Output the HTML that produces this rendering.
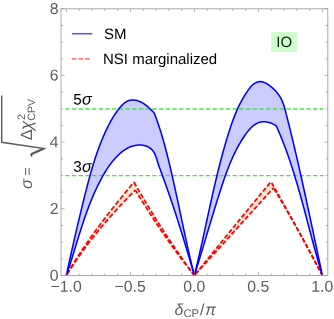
<!DOCTYPE html>
<html>
<head>
<meta charset="utf-8">
<title>CPV sensitivity</title>
<style>
html,body{margin:0;padding:0;background:#ffffff;}
body{width:334px;height:319px;overflow:hidden;}
svg{display:block;will-change:transform;}
svg{font-family:"Liberation Sans",sans-serif;font-size:15.5px;}
text{font-family:"Liberation Sans",sans-serif;text-rendering:geometricPrecision;}
.it{font-style:italic;}
</style>
</head>
<body>
<svg width="334" height="319" viewBox="0 0 334 319">
<rect x="0" y="0" width="334" height="319" fill="#ffffff"/>
<!-- NSI band + curves -->
<path d="M66.30 275.50 L67.47 273.45 L68.65 271.42 L69.85 269.39 L71.06 267.36 L72.28 265.35 L73.51 263.34 L74.75 261.34 L76.01 259.35 L77.27 257.36 L78.54 255.38 L79.83 253.41 L81.12 251.44 L82.43 249.48 L83.74 247.53 L85.07 245.58 L86.40 243.64 L87.74 241.70 L89.09 239.77 L90.45 237.85 L91.82 235.93 L93.19 234.01 L94.57 232.11 L95.96 230.20 L97.36 228.30 L98.77 226.41 L100.18 224.52 L101.59 222.64 L103.02 220.76 L104.44 218.88 L105.88 217.01 L107.32 215.15 L108.77 213.28 L110.22 211.42 L111.67 209.57 L113.13 207.72 L114.59 205.87 L116.06 204.02 L117.53 202.18 L119.01 200.34 L120.49 198.51 L121.97 196.68 L123.45 194.85 L124.94 193.02 L126.43 191.19 L127.92 189.37 L129.41 187.55 L130.91 185.73 L132.40 183.91 L133.90 182.10 L135.45 184.80 L137.00 187.48 L138.55 190.15 L140.10 192.80 L141.65 195.43 L143.20 198.05 L144.75 200.66 L146.30 203.24 L147.85 205.81 L149.40 208.37 L150.95 210.91 L152.50 213.43 L154.05 215.94 L155.60 218.43 L157.15 220.90 L158.70 223.36 L160.25 225.81 L161.80 228.23 L163.35 230.64 L164.90 233.04 L166.45 235.42 L168.00 237.78 L169.55 240.13 L171.10 242.46 L172.65 244.77 L174.20 247.07 L175.75 249.35 L177.30 251.62 L178.85 253.87 L180.40 256.11 L181.95 258.33 L183.50 260.53 L185.05 262.72 L186.60 264.89 L188.15 267.04 L189.70 269.18 L191.25 271.30 L192.80 273.41 L194.35 275.50 L194.35 275.50 L192.84 273.60 L191.32 271.69 L189.81 269.76 L188.29 267.82 L186.78 265.86 L185.27 263.88 L183.75 261.89 L182.24 259.89 L180.72 257.87 L179.21 255.83 L177.69 253.78 L176.18 251.71 L174.67 249.63 L173.15 247.53 L171.64 245.42 L170.12 243.29 L168.61 241.15 L167.10 238.99 L165.58 236.82 L164.07 234.63 L162.55 232.42 L161.04 230.20 L159.53 227.97 L158.01 225.71 L156.50 223.45 L154.98 221.17 L153.47 218.87 L151.96 216.56 L150.44 214.23 L148.93 211.88 L147.41 209.52 L145.90 207.15 L144.38 204.76 L142.87 202.36 L141.36 199.94 L139.84 197.50 L138.33 195.05 L136.81 192.58 L135.30 190.10 L133.72 191.69 L132.14 193.29 L130.57 194.89 L129.01 196.50 L127.45 198.11 L125.89 199.73 L124.34 201.36 L122.80 202.99 L121.26 204.63 L119.73 206.27 L118.21 207.93 L116.69 209.58 L115.18 211.25 L113.68 212.92 L112.18 214.59 L110.69 216.27 L109.20 217.96 L107.73 219.66 L106.26 221.36 L104.80 223.07 L103.35 224.78 L101.90 226.50 L100.46 228.23 L99.03 229.96 L97.61 231.70 L96.20 233.45 L94.79 235.20 L93.40 236.96 L92.01 238.73 L90.63 240.50 L89.26 242.28 L87.90 244.07 L86.55 245.86 L85.21 247.67 L83.88 249.47 L82.55 251.29 L81.24 253.11 L79.94 254.93 L78.65 256.77 L77.36 258.61 L76.09 260.46 L74.83 262.31 L73.58 264.18 L72.34 266.05 L71.11 267.92 L69.89 269.81 L68.68 271.70 L67.49 273.60 L66.30 275.50 Z" fill="#fbe6d2" stroke="none"/>
<path d="M194.35 275.50 L196.32 273.07 L198.28 270.63 L200.25 268.20 L202.21 265.77 L204.18 263.34 L206.14 260.92 L208.11 258.49 L210.07 256.07 L212.04 253.64 L214.00 251.22 L215.97 248.80 L217.93 246.39 L219.90 243.97 L221.87 241.56 L223.83 239.14 L225.80 236.73 L227.76 234.32 L229.73 231.91 L231.69 229.51 L233.66 227.10 L235.62 224.70 L237.59 222.30 L239.55 219.90 L241.52 217.50 L243.48 215.10 L245.45 212.70 L247.42 210.31 L249.38 207.92 L251.35 205.53 L253.31 203.14 L255.28 200.75 L257.24 198.36 L259.21 195.98 L261.17 193.59 L263.14 191.21 L265.10 188.83 L267.07 186.45 L269.03 184.08 L271.00 181.70 L272.32 184.01 L273.64 186.32 L274.95 188.64 L276.27 190.97 L277.59 193.30 L278.91 195.63 L280.23 197.97 L281.54 200.32 L282.86 202.67 L284.18 205.02 L285.50 207.38 L286.82 209.75 L288.13 212.12 L289.45 214.49 L290.77 216.87 L292.09 219.26 L293.41 221.65 L294.72 224.04 L296.04 226.44 L297.36 228.85 L298.68 231.26 L299.99 233.67 L301.31 236.09 L302.63 238.52 L303.95 240.95 L305.27 243.38 L306.58 245.82 L307.90 248.27 L309.22 250.72 L310.54 253.18 L311.86 255.64 L313.17 258.10 L314.49 260.57 L315.81 263.05 L317.13 265.53 L318.45 268.01 L319.76 270.50 L321.08 273.00 L322.40 275.50 L322.40 275.50 L321.15 273.10 L319.89 270.70 L318.64 268.32 L317.38 265.94 L316.13 263.57 L314.88 261.21 L313.62 258.86 L312.37 256.51 L311.12 254.18 L309.86 251.85 L308.61 249.53 L307.35 247.22 L306.10 244.92 L304.85 242.62 L303.59 240.33 L302.34 238.05 L301.08 235.78 L299.83 233.52 L298.58 231.27 L297.32 229.02 L296.07 226.78 L294.82 224.55 L293.56 222.33 L292.31 220.12 L291.05 217.91 L289.80 215.72 L288.55 213.53 L287.29 211.35 L286.04 209.17 L284.78 207.01 L283.53 204.85 L282.28 202.71 L281.02 200.57 L279.77 198.43 L278.52 196.31 L277.26 194.20 L276.01 192.09 L274.75 189.99 L273.50 187.90 L271.47 190.15 L269.44 192.39 L267.41 194.64 L265.38 196.88 L263.35 199.13 L261.32 201.38 L259.29 203.62 L257.26 205.87 L255.23 208.12 L253.21 210.36 L251.18 212.61 L249.15 214.85 L247.12 217.10 L245.09 219.35 L243.06 221.59 L241.03 223.84 L239.00 226.08 L236.97 228.33 L234.94 230.58 L232.91 232.82 L230.88 235.07 L228.85 237.32 L226.82 239.56 L224.79 241.81 L222.76 244.05 L220.73 246.30 L218.70 248.55 L216.67 250.79 L214.64 253.04 L212.62 255.28 L210.59 257.53 L208.56 259.78 L206.53 262.02 L204.50 264.27 L202.47 266.52 L200.44 268.76 L198.41 271.01 L196.38 273.25 L194.35 275.50 Z" fill="#fbe6d2" stroke="none"/>
<g fill="none" stroke="#ff0000" stroke-width="1.75" stroke-linejoin="miter">
<path d="M66.30 275.50 L67.47 273.45 L68.65 271.42 L69.85 269.39 L71.06 267.36 L72.28 265.35 L73.51 263.34 L74.75 261.34 L76.01 259.35 L77.27 257.36 L78.54 255.38 L79.83 253.41 L81.12 251.44 L82.43 249.48 L83.74 247.53 L85.07 245.58 L86.40 243.64 L87.74 241.70 L89.09 239.77 L90.45 237.85 L91.82 235.93 L93.19 234.01 L94.57 232.11 L95.96 230.20 L97.36 228.30 L98.77 226.41 L100.18 224.52 L101.59 222.64 L103.02 220.76 L104.44 218.88 L105.88 217.01 L107.32 215.15 L108.77 213.28 L110.22 211.42 L111.67 209.57 L113.13 207.72 L114.59 205.87 L116.06 204.02 L117.53 202.18 L119.01 200.34 L120.49 198.51 L121.97 196.68 L123.45 194.85 L124.94 193.02 L126.43 191.19 L127.92 189.37 L129.41 187.55 L130.91 185.73 L132.40 183.91 L133.90 182.10" stroke-dasharray="4.90 2.20" stroke-dashoffset="5.88"/>
<path d="M66.30 275.50 L67.49 273.60 L68.68 271.70 L69.89 269.81 L71.11 267.92 L72.34 266.05 L73.58 264.18 L74.83 262.31 L76.09 260.46 L77.36 258.61 L78.65 256.77 L79.94 254.93 L81.24 253.11 L82.55 251.29 L83.88 249.47 L85.21 247.67 L86.55 245.86 L87.90 244.07 L89.26 242.28 L90.63 240.50 L92.01 238.73 L93.40 236.96 L94.79 235.20 L96.20 233.45 L97.61 231.70 L99.03 229.96 L100.46 228.23 L101.90 226.50 L103.35 224.78 L104.80 223.07 L106.26 221.36 L107.73 219.66 L109.20 217.96 L110.69 216.27 L112.18 214.59 L113.68 212.92 L115.18 211.25 L116.69 209.58 L118.21 207.93 L119.73 206.27 L121.26 204.63 L122.80 202.99 L124.34 201.36 L125.89 199.73 L127.45 198.11 L129.01 196.50 L130.57 194.89 L132.14 193.29 L133.72 191.69 L135.30 190.10" stroke-dasharray="4.90 2.20" stroke-dashoffset="5.74"/>
<path d="M133.90 182.10 L135.45 184.80 L137.00 187.48 L138.55 190.15 L140.10 192.80 L141.65 195.43 L143.20 198.05 L144.75 200.66 L146.30 203.24 L147.85 205.81 L149.40 208.37 L150.95 210.91 L152.50 213.43 L154.05 215.94 L155.60 218.43 L157.15 220.90 L158.70 223.36 L160.25 225.81 L161.80 228.23 L163.35 230.64 L164.90 233.04 L166.45 235.42 L168.00 237.78 L169.55 240.13 L171.10 242.46 L172.65 244.77 L174.20 247.07 L175.75 249.35 L177.30 251.62 L178.85 253.87 L180.40 256.11 L181.95 258.33 L183.50 260.53 L185.05 262.72 L186.60 264.89 L188.15 267.04 L189.70 269.18 L191.25 271.30 L192.80 273.41 L194.35 275.50" stroke-dasharray="4.60 2.10" stroke-dashoffset="6.51"/>
<path d="M135.30 190.10 L136.81 192.58 L138.33 195.05 L139.84 197.50 L141.36 199.94 L142.87 202.36 L144.38 204.76 L145.90 207.15 L147.41 209.52 L148.93 211.88 L150.44 214.23 L151.96 216.56 L153.47 218.87 L154.98 221.17 L156.50 223.45 L158.01 225.71 L159.53 227.97 L161.04 230.20 L162.55 232.42 L164.07 234.63 L165.58 236.82 L167.10 238.99 L168.61 241.15 L170.12 243.29 L171.64 245.42 L173.15 247.53 L174.67 249.63 L176.18 251.71 L177.69 253.78 L179.21 255.83 L180.72 257.87 L182.24 259.89 L183.75 261.89 L185.27 263.88 L186.78 265.86 L188.29 267.82 L189.81 269.76 L191.32 271.69 L192.84 273.60 L194.35 275.50" stroke-dasharray="4.60 2.10" stroke-dashoffset="0.73"/>
<path d="M194.35 275.50 L196.32 273.07 L198.28 270.63 L200.25 268.20 L202.21 265.77 L204.18 263.34 L206.14 260.92 L208.11 258.49 L210.07 256.07 L212.04 253.64 L214.00 251.22 L215.97 248.80 L217.93 246.39 L219.90 243.97 L221.87 241.56 L223.83 239.14 L225.80 236.73 L227.76 234.32 L229.73 231.91 L231.69 229.51 L233.66 227.10 L235.62 224.70 L237.59 222.30 L239.55 219.90 L241.52 217.50 L243.48 215.10 L245.45 212.70 L247.42 210.31 L249.38 207.92 L251.35 205.53 L253.31 203.14 L255.28 200.75 L257.24 198.36 L259.21 195.98 L261.17 193.59 L263.14 191.21 L265.10 188.83 L267.07 186.45 L269.03 184.08 L271.00 181.70" stroke-dasharray="4.60 2.10" stroke-dashoffset="5.47"/>
<path d="M194.35 275.50 L196.38 273.25 L198.41 271.01 L200.44 268.76 L202.47 266.52 L204.50 264.27 L206.53 262.02 L208.56 259.78 L210.59 257.53 L212.62 255.28 L214.64 253.04 L216.67 250.79 L218.70 248.55 L220.73 246.30 L222.76 244.05 L224.79 241.81 L226.82 239.56 L228.85 237.32 L230.88 235.07 L232.91 232.82 L234.94 230.58 L236.97 228.33 L239.00 226.08 L241.03 223.84 L243.06 221.59 L245.09 219.35 L247.12 217.10 L249.15 214.85 L251.18 212.61 L253.21 210.36 L255.23 208.12 L257.26 205.87 L259.29 203.62 L261.32 201.38 L263.35 199.13 L265.38 196.88 L267.41 194.64 L269.44 192.39 L271.47 190.15 L273.50 187.90" stroke-dasharray="4.60 2.10" stroke-dashoffset="4.77"/>
<path d="M271.00 181.70 L272.32 184.01 L273.64 186.32 L274.95 188.64 L276.27 190.97 L277.59 193.30 L278.91 195.63 L280.23 197.97 L281.54 200.32 L282.86 202.67 L284.18 205.02 L285.50 207.38 L286.82 209.75 L288.13 212.12 L289.45 214.49 L290.77 216.87 L292.09 219.26 L293.41 221.65 L294.72 224.04 L296.04 226.44 L297.36 228.85 L298.68 231.26 L299.99 233.67 L301.31 236.09 L302.63 238.52 L303.95 240.95 L305.27 243.38 L306.58 245.82 L307.90 248.27 L309.22 250.72 L310.54 253.18 L311.86 255.64 L313.17 258.10 L314.49 260.57 L315.81 263.05 L317.13 265.53 L318.45 268.01 L319.76 270.50 L321.08 273.00 L322.40 275.50" stroke-dasharray="4.40 1.95" stroke-dashoffset="4.95"/>
<path d="M273.50 187.90 L274.75 189.99 L276.01 192.09 L277.26 194.20 L278.52 196.31 L279.77 198.43 L281.02 200.57 L282.28 202.71 L283.53 204.85 L284.78 207.01 L286.04 209.17 L287.29 211.35 L288.55 213.53 L289.80 215.72 L291.05 217.91 L292.31 220.12 L293.56 222.33 L294.82 224.55 L296.07 226.78 L297.32 229.02 L298.58 231.27 L299.83 233.52 L301.08 235.78 L302.34 238.05 L303.59 240.33 L304.85 242.62 L306.10 244.92 L307.35 247.22 L308.61 249.53 L309.86 251.85 L311.12 254.18 L312.37 256.51 L313.62 258.86 L314.88 261.21 L316.13 263.57 L317.38 265.94 L318.64 268.32 L319.89 270.70 L321.15 273.10 L322.40 275.50" stroke-dasharray="4.40 1.95" stroke-dashoffset="5.20"/>
</g>
<!-- SM band + curves -->
<path d="M66.30 275.50 L66.73 273.52 L67.16 271.54 L67.59 269.57 L68.02 267.59 L68.45 265.61 L68.89 263.63 L69.32 261.66 L69.76 259.68 L70.20 257.70 L70.64 255.73 L71.08 253.75 L71.52 251.77 L71.96 249.80 L72.41 247.82 L72.86 245.85 L73.30 243.87 L73.75 241.90 L74.20 239.92 L74.65 237.95 L75.11 235.97 L75.56 234.00 L76.02 232.03 L76.48 230.05 L76.94 228.08 L77.40 226.11 L77.86 224.14 L78.33 222.17 L78.79 220.20 L79.26 218.22 L79.73 216.25 L80.20 214.28 L80.68 212.32 L81.15 210.35 L81.63 208.38 L82.11 206.41 L82.59 204.44 L83.08 202.47 L83.56 200.51 L84.05 198.54 L84.54 196.57 L85.03 194.61 L85.52 192.64 L86.02 190.68 L86.52 188.72 L87.02 186.75 L87.53 184.79 L88.04 182.83 L88.56 180.88 L89.09 178.92 L89.62 176.97 L90.16 175.02 L90.70 173.07 L91.26 171.12 L91.82 169.18 L92.39 167.24 L92.97 165.31 L93.56 163.37 L94.16 161.45 L94.78 159.52 L95.40 157.60 L96.04 155.69 L96.69 153.77 L97.35 151.87 L98.03 149.97 L98.72 148.07 L99.43 146.18 L100.15 144.30 L100.89 142.42 L101.64 140.54 L102.42 138.68 L103.20 136.82 L104.01 134.96 L104.84 133.12 L105.68 131.28 L106.55 129.45 L107.43 127.62 L108.34 125.81 L109.27 124.00 L110.22 122.20 L111.20 120.42 L112.22 118.65 L113.27 116.90 L114.35 115.18 L115.48 113.47 L116.65 111.79 L117.87 110.14 L119.14 108.51 L120.45 106.92 L121.83 105.39 L123.28 103.97 L124.80 102.69 L126.41 101.62 L128.11 100.79 L129.91 100.26 L131.79 100.00 L133.73 100.02 L135.69 100.27 L137.67 100.75 L139.63 101.44 L141.54 102.32 L143.39 103.37 L145.14 104.56 L146.81 105.87 L148.39 107.26 L149.90 108.69 L151.34 110.11 L152.74 111.50 L154.10 112.80 L154.85 114.70 L155.57 116.61 L156.29 118.52 L156.98 120.44 L157.66 122.37 L158.33 124.29 L158.98 126.23 L159.62 128.17 L160.24 130.11 L160.86 132.06 L161.46 134.01 L162.04 135.97 L162.62 137.93 L163.19 139.89 L163.74 141.86 L164.29 143.83 L164.83 145.80 L165.36 147.77 L165.88 149.75 L166.39 151.73 L166.90 153.71 L167.40 155.70 L167.89 157.68 L168.38 159.67 L168.87 161.66 L169.35 163.65 L169.82 165.64 L170.29 167.63 L170.76 169.62 L171.22 171.61 L171.69 173.61 L172.14 175.60 L172.60 177.60 L173.05 179.60 L173.49 181.59 L173.94 183.59 L174.38 185.59 L174.82 187.59 L175.26 189.59 L175.70 191.59 L176.13 193.59 L176.56 195.59 L176.99 197.59 L177.42 199.60 L177.85 201.60 L178.28 203.60 L178.71 205.60 L179.13 207.61 L179.56 209.61 L179.98 211.61 L180.41 213.62 L180.83 215.62 L181.25 217.62 L181.68 219.62 L182.10 221.63 L182.53 223.63 L182.96 225.63 L183.38 227.64 L183.81 229.64 L184.24 231.64 L184.67 233.64 L185.11 235.64 L185.54 237.64 L185.98 239.64 L186.42 241.64 L186.86 243.64 L187.30 245.64 L187.75 247.63 L188.19 249.63 L188.65 251.63 L189.10 253.62 L189.56 255.61 L190.02 257.61 L190.48 259.60 L190.95 261.59 L191.42 263.58 L191.90 265.57 L192.38 267.56 L192.87 269.55 L193.36 271.53 L193.85 273.52 L194.35 275.50 L193.82 273.53 L193.28 271.56 L192.74 269.59 L192.19 267.63 L191.64 265.67 L191.08 263.71 L190.53 261.76 L189.96 259.81 L189.40 257.87 L188.83 255.93 L188.26 253.99 L187.68 252.05 L187.10 250.12 L186.52 248.19 L185.93 246.26 L185.34 244.33 L184.75 242.41 L184.15 240.49 L183.56 238.56 L182.95 236.65 L182.35 234.73 L181.74 232.81 L181.13 230.90 L180.52 228.99 L179.90 227.08 L179.28 225.17 L178.66 223.26 L178.04 221.35 L177.41 219.44 L176.78 217.53 L176.15 215.62 L175.51 213.72 L174.88 211.81 L174.24 209.90 L173.60 208.00 L172.96 206.09 L172.31 204.18 L171.67 202.27 L171.02 200.36 L170.37 198.45 L169.72 196.54 L169.06 194.63 L168.41 192.71 L167.75 190.80 L167.09 188.88 L166.43 186.97 L165.77 185.05 L165.11 183.12 L164.44 181.20 L163.78 179.28 L163.11 177.35 L162.45 175.42 L161.78 173.48 L161.11 171.55 L160.44 169.61 L159.77 167.67 L159.09 165.73 L158.42 163.78 L157.75 161.83 L157.06 159.89 L156.34 157.97 L155.57 156.10 L154.72 154.30 L153.78 152.57 L152.72 150.95 L151.54 149.46 L150.18 148.13 L148.63 147.03 L146.90 146.19 L145.02 145.58 L143.02 145.19 L140.96 145.01 L138.86 145.02 L136.76 145.20 L134.71 145.55 L132.72 146.05 L130.81 146.69 L128.96 147.45 L127.18 148.34 L125.46 149.34 L123.80 150.44 L122.20 151.63 L120.65 152.91 L119.16 154.26 L117.71 155.68 L116.31 157.15 L114.95 158.67 L113.63 160.23 L112.34 161.82 L111.09 163.42 L109.88 165.05 L108.69 166.70 L107.54 168.36 L106.42 170.05 L105.32 171.75 L104.26 173.46 L103.22 175.20 L102.21 176.95 L101.22 178.71 L100.26 180.48 L99.33 182.27 L98.41 184.07 L97.52 185.88 L96.64 187.71 L95.79 189.54 L94.95 191.38 L94.13 193.22 L93.33 195.08 L92.55 196.94 L91.78 198.81 L91.02 200.68 L90.28 202.56 L89.54 204.44 L88.83 206.33 L88.12 208.22 L87.42 210.11 L86.74 212.01 L86.06 213.92 L85.40 215.82 L84.74 217.73 L84.09 219.65 L83.45 221.56 L82.82 223.48 L82.19 225.40 L81.57 227.33 L80.95 229.25 L80.34 231.18 L79.73 233.11 L79.13 235.04 L78.53 236.97 L77.93 238.90 L77.34 240.84 L76.74 242.77 L76.15 244.71 L75.56 246.64 L74.96 248.57 L74.37 250.51 L73.77 252.44 L73.18 254.37 L72.58 256.30 L71.97 258.23 L71.36 260.16 L70.75 262.09 L70.14 264.01 L69.51 265.93 L68.89 267.85 L68.25 269.77 L67.61 271.68 L66.96 273.59 L66.30 275.50 Z" fill="#ccccff" stroke="none"/>
<path d="M194.35 275.50 L194.84 273.55 L195.32 271.60 L195.79 269.64 L196.27 267.69 L196.74 265.73 L197.20 263.77 L197.66 261.81 L198.12 259.85 L198.58 257.89 L199.03 255.93 L199.48 253.96 L199.92 252.00 L200.37 250.03 L200.81 248.07 L201.25 246.10 L201.69 244.14 L202.12 242.17 L202.56 240.20 L202.99 238.23 L203.42 236.26 L203.85 234.29 L204.28 232.32 L204.71 230.35 L205.13 228.38 L205.56 226.41 L205.99 224.44 L206.41 222.47 L206.84 220.50 L207.27 218.53 L207.69 216.55 L208.12 214.58 L208.55 212.61 L208.98 210.64 L209.41 208.67 L209.84 206.70 L210.27 204.73 L210.71 202.76 L211.14 200.79 L211.58 198.83 L212.02 196.86 L212.46 194.89 L212.91 192.93 L213.35 190.96 L213.80 188.99 L214.25 187.03 L214.71 185.07 L215.17 183.11 L215.63 181.14 L216.10 179.18 L216.56 177.23 L217.04 175.27 L217.52 173.31 L218.00 171.36 L218.48 169.40 L218.97 167.45 L219.47 165.50 L219.97 163.55 L220.47 161.60 L220.99 159.65 L221.50 157.71 L222.02 155.76 L222.55 153.82 L223.08 151.88 L223.62 149.94 L224.17 148.01 L224.72 146.07 L225.28 144.14 L225.85 142.21 L226.42 140.28 L227.00 138.36 L227.58 136.43 L228.18 134.51 L228.78 132.59 L229.39 130.67 L230.01 128.76 L230.64 126.85 L231.29 124.94 L231.94 123.04 L232.62 121.15 L233.31 119.26 L234.02 117.38 L234.75 115.50 L235.50 113.63 L236.28 111.78 L237.08 109.93 L237.91 108.09 L238.76 106.26 L239.65 104.44 L240.57 102.64 L241.52 100.84 L242.50 99.06 L243.53 97.30 L244.58 95.54 L245.68 93.81 L246.82 92.08 L248.00 90.38 L249.23 88.69 L250.52 87.06 L251.90 85.54 L253.40 84.20 L255.03 83.09 L256.77 82.25 L258.57 81.73 L260.41 81.56 L262.24 81.78 L264.05 82.33 L265.83 83.16 L267.58 84.18 L269.28 85.34 L270.92 86.58 L272.50 87.91 L274.02 89.32 L275.46 90.81 L276.82 92.36 L278.09 93.97 L279.26 95.64 L280.34 97.36 L281.31 99.14 L282.16 100.95 L282.91 102.80 L283.59 104.68 L284.19 106.59 L284.74 108.52 L285.27 110.45 L285.77 112.40 L286.27 114.34 L286.77 116.29 L287.27 118.23 L287.77 120.18 L288.26 122.13 L288.75 124.08 L289.24 126.03 L289.72 127.98 L290.21 129.93 L290.69 131.88 L291.17 133.83 L291.64 135.79 L292.12 137.74 L292.59 139.70 L293.06 141.66 L293.53 143.61 L293.99 145.57 L294.46 147.53 L294.92 149.49 L295.38 151.45 L295.84 153.41 L296.30 155.38 L296.75 157.34 L297.21 159.30 L297.66 161.26 L298.11 163.23 L298.56 165.19 L299.01 167.16 L299.45 169.12 L299.90 171.09 L300.34 173.06 L300.78 175.02 L301.22 176.99 L301.66 178.96 L302.10 180.93 L302.54 182.90 L302.97 184.87 L303.40 186.83 L303.84 188.80 L304.27 190.77 L304.70 192.74 L305.13 194.72 L305.56 196.69 L305.99 198.66 L306.42 200.63 L306.84 202.60 L307.27 204.57 L307.69 206.54 L308.12 208.52 L308.54 210.49 L308.96 212.46 L309.39 214.43 L309.81 216.40 L310.23 218.38 L310.65 220.35 L311.07 222.32 L311.49 224.29 L311.91 226.26 L312.33 228.24 L312.75 230.21 L313.17 232.18 L313.59 234.15 L314.01 236.12 L314.42 238.10 L314.84 240.07 L315.26 242.04 L315.68 244.01 L316.10 245.98 L316.51 247.95 L316.93 249.92 L317.35 251.89 L317.77 253.86 L318.19 255.83 L318.61 257.80 L319.03 259.77 L319.45 261.74 L319.87 263.70 L320.29 265.67 L320.71 267.64 L321.13 269.60 L321.55 271.57 L321.98 273.54 L322.40 275.50 L321.81 273.56 L321.22 271.62 L320.64 269.68 L320.06 267.73 L319.49 265.78 L318.92 263.83 L318.36 261.88 L317.80 259.93 L317.25 257.97 L316.70 256.01 L316.15 254.06 L315.61 252.10 L315.07 250.14 L314.53 248.17 L313.99 246.21 L313.46 244.25 L312.93 242.28 L312.40 240.31 L311.88 238.35 L311.35 236.38 L310.83 234.41 L310.31 232.44 L309.79 230.47 L309.27 228.50 L308.75 226.53 L308.22 224.56 L307.70 222.59 L307.18 220.62 L306.66 218.65 L306.14 216.68 L305.62 214.71 L305.09 212.74 L304.57 210.77 L304.04 208.80 L303.51 206.84 L302.98 204.87 L302.44 202.90 L301.90 200.94 L301.36 198.97 L300.82 197.01 L300.27 195.05 L299.72 193.09 L299.17 191.13 L298.61 189.17 L298.05 187.21 L297.48 185.26 L296.91 183.31 L296.33 181.36 L295.75 179.41 L295.16 177.46 L294.57 175.51 L293.97 173.57 L293.37 171.63 L292.75 169.69 L292.13 167.76 L291.51 165.82 L290.88 163.89 L290.24 161.96 L289.59 160.04 L288.93 158.12 L288.27 156.20 L287.60 154.28 L286.92 152.37 L286.23 150.46 L285.53 148.55 L284.82 146.65 L284.11 144.75 L283.38 142.85 L282.64 140.96 L281.89 139.07 L281.13 137.19 L280.36 135.31 L279.58 133.44 L278.78 131.57 L277.97 129.71 L277.14 127.85 L276.30 126.00 L274.50 124.69 L272.64 123.63 L270.72 122.81 L268.76 122.24 L266.79 121.91 L264.81 121.80 L262.84 121.91 L260.91 122.24 L259.03 122.78 L257.20 123.51 L255.44 124.41 L253.75 125.48 L252.13 126.68 L250.59 128.00 L249.14 129.41 L247.76 130.91 L246.47 132.47 L245.25 134.10 L244.10 135.77 L243.00 137.50 L241.96 139.26 L240.95 141.05 L239.98 142.86 L239.04 144.69 L238.12 146.53 L237.21 148.37 L236.32 150.22 L235.44 152.07 L234.57 153.93 L233.72 155.79 L232.89 157.66 L232.07 159.53 L231.26 161.40 L230.46 163.28 L229.68 165.16 L228.91 167.05 L228.15 168.93 L227.40 170.83 L226.66 172.72 L225.93 174.62 L225.22 176.52 L224.51 178.43 L223.82 180.34 L223.13 182.25 L222.45 184.17 L221.78 186.08 L221.12 188.00 L220.47 189.93 L219.82 191.85 L219.18 193.78 L218.55 195.71 L217.93 197.64 L217.31 199.57 L216.69 201.51 L216.09 203.45 L215.49 205.39 L214.89 207.33 L214.30 209.27 L213.71 211.21 L213.12 213.16 L212.54 215.11 L211.96 217.05 L211.39 219.00 L210.81 220.95 L210.24 222.90 L209.67 224.85 L209.11 226.81 L208.54 228.76 L207.97 230.71 L207.41 232.66 L206.84 234.62 L206.28 236.57 L205.71 238.52 L205.14 240.48 L204.57 242.43 L204.00 244.38 L203.43 246.33 L202.85 248.29 L202.28 250.24 L201.69 252.19 L201.11 254.14 L200.52 256.09 L199.93 258.03 L199.33 259.98 L198.73 261.93 L198.12 263.87 L197.51 265.81 L196.89 267.75 L196.27 269.69 L195.63 271.63 L195.00 273.57 L194.35 275.50 Z" fill="#ccccff" stroke="none"/>
<!-- sigma lines -->
<path d="M65.2 109.0 H323.6" stroke="#2ce82c" stroke-opacity="0.9" stroke-width="1.3" stroke-dasharray="4.3 2.4" fill="none"/>
<path d="M65.2 175.55 H323.6" stroke="#2ce82c" stroke-opacity="0.9" stroke-width="1.3" stroke-dasharray="4.3 2.4" fill="none"/>
<g fill="none" stroke="#0000ff" stroke-width="1.55" stroke-linejoin="round" stroke-linecap="butt">
<path d="M66.30 275.50 L66.73 273.52 L67.16 271.54 L67.59 269.57 L68.02 267.59 L68.45 265.61 L68.89 263.63 L69.32 261.66 L69.76 259.68 L70.20 257.70 L70.64 255.73 L71.08 253.75 L71.52 251.77 L71.96 249.80 L72.41 247.82 L72.86 245.85 L73.30 243.87 L73.75 241.90 L74.20 239.92 L74.65 237.95 L75.11 235.97 L75.56 234.00 L76.02 232.03 L76.48 230.05 L76.94 228.08 L77.40 226.11 L77.86 224.14 L78.33 222.17 L78.79 220.20 L79.26 218.22 L79.73 216.25 L80.20 214.28 L80.68 212.32 L81.15 210.35 L81.63 208.38 L82.11 206.41 L82.59 204.44 L83.08 202.47 L83.56 200.51 L84.05 198.54 L84.54 196.57 L85.03 194.61 L85.52 192.64 L86.02 190.68 L86.52 188.72 L87.02 186.75 L87.53 184.79 L88.04 182.83 L88.56 180.88 L89.09 178.92 L89.62 176.97 L90.16 175.02 L90.70 173.07 L91.26 171.12 L91.82 169.18 L92.39 167.24 L92.97 165.31 L93.56 163.37 L94.16 161.45 L94.78 159.52 L95.40 157.60 L96.04 155.69 L96.69 153.77 L97.35 151.87 L98.03 149.97 L98.72 148.07 L99.43 146.18 L100.15 144.30 L100.89 142.42 L101.64 140.54 L102.42 138.68 L103.20 136.82 L104.01 134.96 L104.84 133.12 L105.68 131.28 L106.55 129.45 L107.43 127.62 L108.34 125.81 L109.27 124.00 L110.22 122.20 L111.20 120.42 L112.22 118.65 L113.27 116.90 L114.35 115.18 L115.48 113.47 L116.65 111.79 L117.87 110.14 L119.14 108.51 L120.45 106.92 L121.83 105.39 L123.28 103.97 L124.80 102.69 L126.41 101.62 L128.11 100.79 L129.91 100.26 L131.79 100.00 L133.73 100.02 L135.69 100.27 L137.67 100.75 L139.63 101.44 L141.54 102.32 L143.39 103.37 L145.14 104.56 L146.81 105.87 L148.39 107.26 L149.90 108.69 L151.34 110.11 L152.74 111.50 L154.10 112.80 L154.85 114.70 L155.57 116.61 L156.29 118.52 L156.98 120.44 L157.66 122.37 L158.33 124.29 L158.98 126.23 L159.62 128.17 L160.24 130.11 L160.86 132.06 L161.46 134.01 L162.04 135.97 L162.62 137.93 L163.19 139.89 L163.74 141.86 L164.29 143.83 L164.83 145.80 L165.36 147.77 L165.88 149.75 L166.39 151.73 L166.90 153.71 L167.40 155.70 L167.89 157.68 L168.38 159.67 L168.87 161.66 L169.35 163.65 L169.82 165.64 L170.29 167.63 L170.76 169.62 L171.22 171.61 L171.69 173.61 L172.14 175.60 L172.60 177.60 L173.05 179.60 L173.49 181.59 L173.94 183.59 L174.38 185.59 L174.82 187.59 L175.26 189.59 L175.70 191.59 L176.13 193.59 L176.56 195.59 L176.99 197.59 L177.42 199.60 L177.85 201.60 L178.28 203.60 L178.71 205.60 L179.13 207.61 L179.56 209.61 L179.98 211.61 L180.41 213.62 L180.83 215.62 L181.25 217.62 L181.68 219.62 L182.10 221.63 L182.53 223.63 L182.96 225.63 L183.38 227.64 L183.81 229.64 L184.24 231.64 L184.67 233.64 L185.11 235.64 L185.54 237.64 L185.98 239.64 L186.42 241.64 L186.86 243.64 L187.30 245.64 L187.75 247.63 L188.19 249.63 L188.65 251.63 L189.10 253.62 L189.56 255.61 L190.02 257.61 L190.48 259.60 L190.95 261.59 L191.42 263.58 L191.90 265.57 L192.38 267.56 L192.87 269.55 L193.36 271.53 L193.85 273.52 L194.35 275.50"/>
<path d="M66.30 275.50 L66.95 273.60 L67.60 271.69 L68.24 269.78 L68.87 267.87 L69.49 265.96 L70.11 264.04 L70.73 262.11 L71.33 260.19 L71.94 258.26 L72.54 256.33 L73.14 254.40 L73.74 252.46 L74.34 250.53 L74.93 248.59 L75.53 246.66 L76.12 244.72 L76.72 242.78 L77.31 240.85 L77.91 238.91 L78.51 236.97 L79.11 235.04 L79.72 233.10 L80.33 231.17 L80.94 229.24 L81.56 227.31 L82.19 225.38 L82.82 223.46 L83.46 221.54 L84.11 219.62 L84.76 217.70 L85.42 215.79 L86.09 213.89 L86.77 211.98 L87.46 210.08 L88.16 208.19 L88.88 206.30 L89.60 204.42 L90.34 202.54 L91.09 200.67 L91.85 198.80 L92.63 196.95 L93.42 195.09 L94.23 193.25 L95.05 191.41 L95.89 189.58 L96.74 187.76 L97.62 185.94 L98.51 184.14 L99.42 182.34 L100.34 180.55 L101.29 178.77 L102.26 177.00 L103.25 175.24 L104.26 173.49 L105.30 171.76 L106.36 170.04 L107.46 168.34 L108.58 166.66 L109.75 165.01 L110.95 163.38 L112.19 161.78 L113.47 160.22 L114.80 158.69 L116.18 157.19 L117.61 155.74 L119.09 154.33 L120.63 152.97 L122.22 151.67 L123.86 150.45 L125.56 149.31 L127.32 148.28 L129.12 147.37 L130.98 146.58 L132.89 145.95 L134.84 145.46 L136.85 145.15 L138.88 145.02 L140.92 145.06 L142.92 145.29 L144.87 145.71 L146.73 146.32 L148.49 147.13 L150.11 148.14 L151.57 149.35 L152.83 150.77 L153.91 152.37 L154.84 154.14 L155.64 156.02 L156.35 157.99 L157.01 160.00 L157.64 162.03 L158.27 164.03 L158.93 166.00 L159.61 167.93 L160.31 169.83 L161.01 171.72 L161.71 173.61 L162.41 175.49 L163.10 177.38 L163.79 179.27 L164.48 181.16 L165.16 183.06 L165.84 184.95 L166.51 186.85 L167.18 188.75 L167.85 190.65 L168.52 192.55 L169.17 194.46 L169.83 196.37 L170.48 198.28 L171.13 200.19 L171.78 202.10 L172.42 204.01 L173.06 205.93 L173.70 207.85 L174.33 209.77 L174.96 211.69 L175.58 213.61 L176.21 215.53 L176.83 217.45 L177.45 219.38 L178.06 221.30 L178.67 223.23 L179.28 225.16 L179.89 227.09 L180.49 229.02 L181.09 230.95 L181.69 232.88 L182.29 234.82 L182.88 236.75 L183.48 238.68 L184.06 240.62 L184.65 242.55 L185.24 244.49 L185.82 246.43 L186.40 248.36 L186.98 250.30 L187.56 252.24 L188.13 254.18 L188.70 256.11 L189.28 258.05 L189.85 259.99 L190.41 261.93 L190.98 263.87 L191.55 265.81 L192.11 267.75 L192.67 269.69 L193.23 271.62 L193.79 273.56 L194.35 275.50"/>
<path d="M194.35 275.50 L194.84 273.55 L195.32 271.60 L195.79 269.64 L196.27 267.69 L196.74 265.73 L197.20 263.77 L197.66 261.81 L198.12 259.85 L198.58 257.89 L199.03 255.93 L199.48 253.96 L199.92 252.00 L200.37 250.03 L200.81 248.07 L201.25 246.10 L201.69 244.14 L202.12 242.17 L202.56 240.20 L202.99 238.23 L203.42 236.26 L203.85 234.29 L204.28 232.32 L204.71 230.35 L205.13 228.38 L205.56 226.41 L205.99 224.44 L206.41 222.47 L206.84 220.50 L207.27 218.53 L207.69 216.55 L208.12 214.58 L208.55 212.61 L208.98 210.64 L209.41 208.67 L209.84 206.70 L210.27 204.73 L210.71 202.76 L211.14 200.79 L211.58 198.83 L212.02 196.86 L212.46 194.89 L212.91 192.93 L213.35 190.96 L213.80 188.99 L214.25 187.03 L214.71 185.07 L215.17 183.11 L215.63 181.14 L216.10 179.18 L216.56 177.23 L217.04 175.27 L217.52 173.31 L218.00 171.36 L218.48 169.40 L218.97 167.45 L219.47 165.50 L219.97 163.55 L220.47 161.60 L220.99 159.65 L221.50 157.71 L222.02 155.76 L222.55 153.82 L223.08 151.88 L223.62 149.94 L224.17 148.01 L224.72 146.07 L225.28 144.14 L225.85 142.21 L226.42 140.28 L227.00 138.36 L227.58 136.43 L228.18 134.51 L228.78 132.59 L229.39 130.67 L230.01 128.76 L230.64 126.85 L231.29 124.94 L231.94 123.04 L232.62 121.15 L233.31 119.26 L234.02 117.38 L234.75 115.50 L235.50 113.63 L236.28 111.78 L237.08 109.93 L237.91 108.09 L238.76 106.26 L239.65 104.44 L240.57 102.64 L241.52 100.84 L242.50 99.06 L243.53 97.30 L244.58 95.54 L245.68 93.81 L246.82 92.08 L248.00 90.38 L249.23 88.69 L250.52 87.06 L251.90 85.54 L253.40 84.20 L255.03 83.09 L256.77 82.25 L258.57 81.73 L260.41 81.56 L262.24 81.78 L264.05 82.33 L265.83 83.16 L267.58 84.18 L269.28 85.34 L270.92 86.58 L272.50 87.91 L274.02 89.32 L275.46 90.81 L276.82 92.36 L278.09 93.97 L279.26 95.64 L280.34 97.36 L281.31 99.14 L282.16 100.95 L282.91 102.80 L283.59 104.68 L284.19 106.59 L284.74 108.52 L285.27 110.45 L285.77 112.40 L286.27 114.34 L286.77 116.29 L287.27 118.23 L287.77 120.18 L288.26 122.13 L288.75 124.08 L289.24 126.03 L289.72 127.98 L290.21 129.93 L290.69 131.88 L291.17 133.83 L291.64 135.79 L292.12 137.74 L292.59 139.70 L293.06 141.66 L293.53 143.61 L293.99 145.57 L294.46 147.53 L294.92 149.49 L295.38 151.45 L295.84 153.41 L296.30 155.38 L296.75 157.34 L297.21 159.30 L297.66 161.26 L298.11 163.23 L298.56 165.19 L299.01 167.16 L299.45 169.12 L299.90 171.09 L300.34 173.06 L300.78 175.02 L301.22 176.99 L301.66 178.96 L302.10 180.93 L302.54 182.90 L302.97 184.87 L303.40 186.83 L303.84 188.80 L304.27 190.77 L304.70 192.74 L305.13 194.72 L305.56 196.69 L305.99 198.66 L306.42 200.63 L306.84 202.60 L307.27 204.57 L307.69 206.54 L308.12 208.52 L308.54 210.49 L308.96 212.46 L309.39 214.43 L309.81 216.40 L310.23 218.38 L310.65 220.35 L311.07 222.32 L311.49 224.29 L311.91 226.26 L312.33 228.24 L312.75 230.21 L313.17 232.18 L313.59 234.15 L314.01 236.12 L314.42 238.10 L314.84 240.07 L315.26 242.04 L315.68 244.01 L316.10 245.98 L316.51 247.95 L316.93 249.92 L317.35 251.89 L317.77 253.86 L318.19 255.83 L318.61 257.80 L319.03 259.77 L319.45 261.74 L319.87 263.70 L320.29 265.67 L320.71 267.64 L321.13 269.60 L321.55 271.57 L321.98 273.54 L322.40 275.50"/>
<path d="M194.35 275.50 L194.96 273.57 L195.57 271.63 L196.17 269.69 L196.78 267.76 L197.38 265.82 L197.98 263.87 L198.57 261.93 L199.17 259.99 L199.76 258.04 L200.35 256.10 L200.94 254.15 L201.53 252.20 L202.12 250.25 L202.71 248.30 L203.29 246.35 L203.88 244.40 L204.46 242.45 L205.05 240.50 L205.63 238.55 L206.21 236.60 L206.80 234.64 L207.38 232.69 L207.97 230.74 L208.55 228.79 L209.14 226.84 L209.72 224.88 L210.31 222.93 L210.90 220.98 L211.49 219.03 L212.08 217.08 L212.67 215.13 L213.27 213.19 L213.86 211.24 L214.46 209.29 L215.06 207.35 L215.66 205.40 L216.27 203.46 L216.87 201.52 L217.48 199.58 L218.09 197.64 L218.71 195.70 L219.33 193.77 L219.95 191.83 L220.58 189.90 L221.20 187.97 L221.84 186.04 L222.47 184.11 L223.12 182.19 L223.77 180.27 L224.43 178.35 L225.09 176.44 L225.77 174.53 L226.46 172.63 L227.16 170.73 L227.88 168.83 L228.61 166.94 L229.36 165.06 L230.12 163.18 L230.91 161.31 L231.71 159.45 L232.53 157.59 L233.38 155.74 L234.24 153.90 L235.14 152.07 L236.05 150.25 L237.00 148.43 L237.97 146.63 L238.96 144.83 L239.99 143.05 L241.05 141.28 L242.14 139.51 L243.27 137.76 L244.43 136.02 L245.62 134.30 L246.86 132.61 L248.14 130.97 L249.47 129.40 L250.86 127.92 L252.30 126.55 L253.82 125.32 L255.40 124.23 L257.07 123.32 L258.81 122.59 L260.64 122.08 L262.56 121.79 L264.58 121.75 L266.67 121.96 L268.78 122.40 L270.86 123.04 L272.84 123.87 L274.67 124.87 L276.30 126.00 L277.14 127.85 L277.97 129.71 L278.78 131.57 L279.58 133.44 L280.36 135.31 L281.13 137.19 L281.89 139.07 L282.64 140.96 L283.38 142.85 L284.11 144.75 L284.82 146.65 L285.53 148.55 L286.23 150.46 L286.92 152.37 L287.60 154.28 L288.27 156.20 L288.93 158.12 L289.59 160.04 L290.24 161.96 L290.88 163.89 L291.51 165.82 L292.13 167.76 L292.75 169.69 L293.37 171.63 L293.97 173.57 L294.57 175.51 L295.16 177.46 L295.75 179.41 L296.33 181.36 L296.91 183.31 L297.48 185.26 L298.05 187.21 L298.61 189.17 L299.17 191.13 L299.72 193.09 L300.27 195.05 L300.82 197.01 L301.36 198.97 L301.90 200.94 L302.44 202.90 L302.98 204.87 L303.51 206.84 L304.04 208.80 L304.57 210.77 L305.09 212.74 L305.62 214.71 L306.14 216.68 L306.66 218.65 L307.18 220.62 L307.70 222.59 L308.22 224.56 L308.75 226.53 L309.27 228.50 L309.79 230.47 L310.31 232.44 L310.83 234.41 L311.35 236.38 L311.88 238.35 L312.40 240.31 L312.93 242.28 L313.46 244.25 L313.99 246.21 L314.53 248.17 L315.07 250.14 L315.61 252.10 L316.15 254.06 L316.70 256.01 L317.25 257.97 L317.80 259.93 L318.36 261.88 L318.92 263.83 L319.49 265.78 L320.06 267.73 L320.64 269.68 L321.22 271.62 L321.81 273.56 L322.40 275.50"/>
</g>
<!-- frame -->
<path d="M66.40 275.50 V271.90 M66.40 8.80 V12.40 M79.20 275.50 V273.40 M79.20 8.80 V10.90 M92.00 275.50 V273.40 M92.00 8.80 V10.90 M104.80 275.50 V273.40 M104.80 8.80 V10.90 M117.60 275.50 V273.40 M117.60 8.80 V10.90 M130.40 275.50 V271.90 M130.40 8.80 V12.40 M143.20 275.50 V273.40 M143.20 8.80 V10.90 M156.00 275.50 V273.40 M156.00 8.80 V10.90 M168.80 275.50 V273.40 M168.80 8.80 V10.90 M181.60 275.50 V273.40 M181.60 8.80 V10.90 M194.40 275.50 V271.90 M194.40 8.80 V12.40 M207.20 275.50 V273.40 M207.20 8.80 V10.90 M220.00 275.50 V273.40 M220.00 8.80 V10.90 M232.80 275.50 V273.40 M232.80 8.80 V10.90 M245.60 275.50 V273.40 M245.60 8.80 V10.90 M258.40 275.50 V271.90 M258.40 8.80 V12.40 M271.20 275.50 V273.40 M271.20 8.80 V10.90 M284.00 275.50 V273.40 M284.00 8.80 V10.90 M296.80 275.50 V273.40 M296.80 8.80 V10.90 M309.60 275.50 V273.40 M309.60 8.80 V10.90 M322.40 275.50 V271.90 M322.40 8.80 V12.40 M61.00 275.50 H64.60 M327.80 275.50 H324.20 M61.00 258.83 H63.10 M327.80 258.83 H325.70 M61.00 242.16 H63.10 M327.80 242.16 H325.70 M61.00 225.49 H63.10 M327.80 225.49 H325.70 M61.00 208.82 H64.60 M327.80 208.82 H324.20 M61.00 192.15 H63.10 M327.80 192.15 H325.70 M61.00 175.48 H63.10 M327.80 175.48 H325.70 M61.00 158.81 H63.10 M327.80 158.81 H325.70 M61.00 142.14 H64.60 M327.80 142.14 H324.20 M61.00 125.47 H63.10 M327.80 125.47 H325.70 M61.00 108.80 H63.10 M327.80 108.80 H325.70 M61.00 92.13 H63.10 M327.80 92.13 H325.70 M61.00 75.46 H64.60 M327.80 75.46 H324.20 M61.00 58.79 H63.10 M327.80 58.79 H325.70 M61.00 42.12 H63.10 M327.80 42.12 H325.70 M61.00 25.45 H63.10 M327.80 25.45 H325.70 M61.00 8.78 H64.60 M327.80 8.78 H324.20" stroke="#858585" stroke-width="0.6" fill="none"/>
<rect x="61.0" y="8.8" width="266.80" height="266.70" fill="none" stroke="#9c9c9c" stroke-width="0.85"/>
<!-- tick labels -->
<text transform="translate(66.20 291.8) rotate(0.05) scale(1.000 1)" text-anchor="middle" fill="#5e5e5e" style="font-size:15.8px">−1.0</text>
<text transform="translate(130.20 291.8) rotate(0.05) scale(1.000 1)" text-anchor="middle" fill="#5e5e5e" style="font-size:15.8px">−0.5</text>
<text transform="translate(194.20 291.8) rotate(0.05) scale(1.000 1)" text-anchor="middle" fill="#5e5e5e" style="font-size:15.8px">0.0</text>
<text transform="translate(258.20 291.8) rotate(0.05) scale(1.000 1)" text-anchor="middle" fill="#5e5e5e" style="font-size:15.8px">0.5</text>
<text transform="translate(322.20 291.8) rotate(0.05) scale(1.000 1)" text-anchor="middle" fill="#5e5e5e" style="font-size:15.8px">1.0</text>
<text transform="translate(58.5 280.65) rotate(0.05) scale(1.000 1)" text-anchor="end" fill="#5e5e5e" style="font-size:15.8px">0</text>
<text transform="translate(58.5 213.97) rotate(0.05) scale(1.000 1)" text-anchor="end" fill="#5e5e5e" style="font-size:15.8px">2</text>
<text transform="translate(58.5 147.29) rotate(0.05) scale(1.000 1)" text-anchor="end" fill="#5e5e5e" style="font-size:15.8px">4</text>
<text transform="translate(58.5 80.61) rotate(0.05) scale(1.000 1)" text-anchor="end" fill="#5e5e5e" style="font-size:15.8px">6</text>
<text transform="translate(58.5 13.93) rotate(0.05) scale(1.000 1)" text-anchor="end" fill="#5e5e5e" style="font-size:15.8px">8</text>
<!-- sigma labels -->
<text transform="translate(73.2 104.5) rotate(0.05)" fill="#000000" style="font-size:15.3px">5<tspan class="it" dx="0.3" style="font-size:16.2px">σ</tspan></text>
<text transform="translate(73.2 171.8) rotate(0.05)" fill="#000000" style="font-size:15.3px">3<tspan class="it" dx="0.3" style="font-size:16.2px">σ</tspan></text>
<!-- legend -->
<path d="M71.9 33.7 H92.2" stroke="#5050ff" stroke-width="1.5" fill="none"/>
<path d="M71.9 58.8 H90" stroke="#ff4a4a" stroke-width="1.35" stroke-dasharray="4.5 2.2" fill="none"/>
<text x="103.9" y="39" fill="#000000" style="font-size:15px">SM</text>
<text x="103.0" y="64" fill="#000000" style="font-size:15px">NSI marginalized</text>
<!-- IO box -->
<rect x="271.1" y="32" width="25.8" height="20" fill="#ccffcc"/>
<text x="284.2" y="47.2" text-anchor="middle" fill="#0a1a0a" style="font-size:15px">IO</text>
<!-- x label -->
<text x="174.6" y="315" fill="#5e5e5e" style="font-size:15.9px"><tspan class="it">δ</tspan><tspan style="font-size:11.2px" dy="2.4">CP</tspan><tspan dy="-2.4" dx="1.0">/</tspan><tspan class="it" dx="0.9">π</tspan></text>
<!-- y label -->
<g transform="translate(32.4 189.5) rotate(-90)" fill="#5e5e5e" style="font-size:16.4px">
<text x="0.4" y="0"><tspan class="it">σ</tspan><tspan dx="-0.2" style="font-size:14.2px"> =</tspan></text>
<text x="49.2" y="0">Δ<tspan class="it" dx="-0.9" style="font-size:17.6px">χ</tspan></text>
<text x="69.4" y="-7.0" style="font-size:10.8px">2</text>
<text x="68.7" y="2.8" style="font-size:10.7px">CPV</text>
<path d="M32.9 -0.4 L35.1 -1.4 L41 11.8 L47.2 -30.7 H93.9" fill="none" stroke="#5c5c5c" stroke-width="1.45" stroke-linejoin="miter"/>
<path d="M35.3 -1.2 L40.8 11.0" fill="none" stroke="#5c5c5c" stroke-width="2.1"/>
</g>
</svg>
</body>
</html>
